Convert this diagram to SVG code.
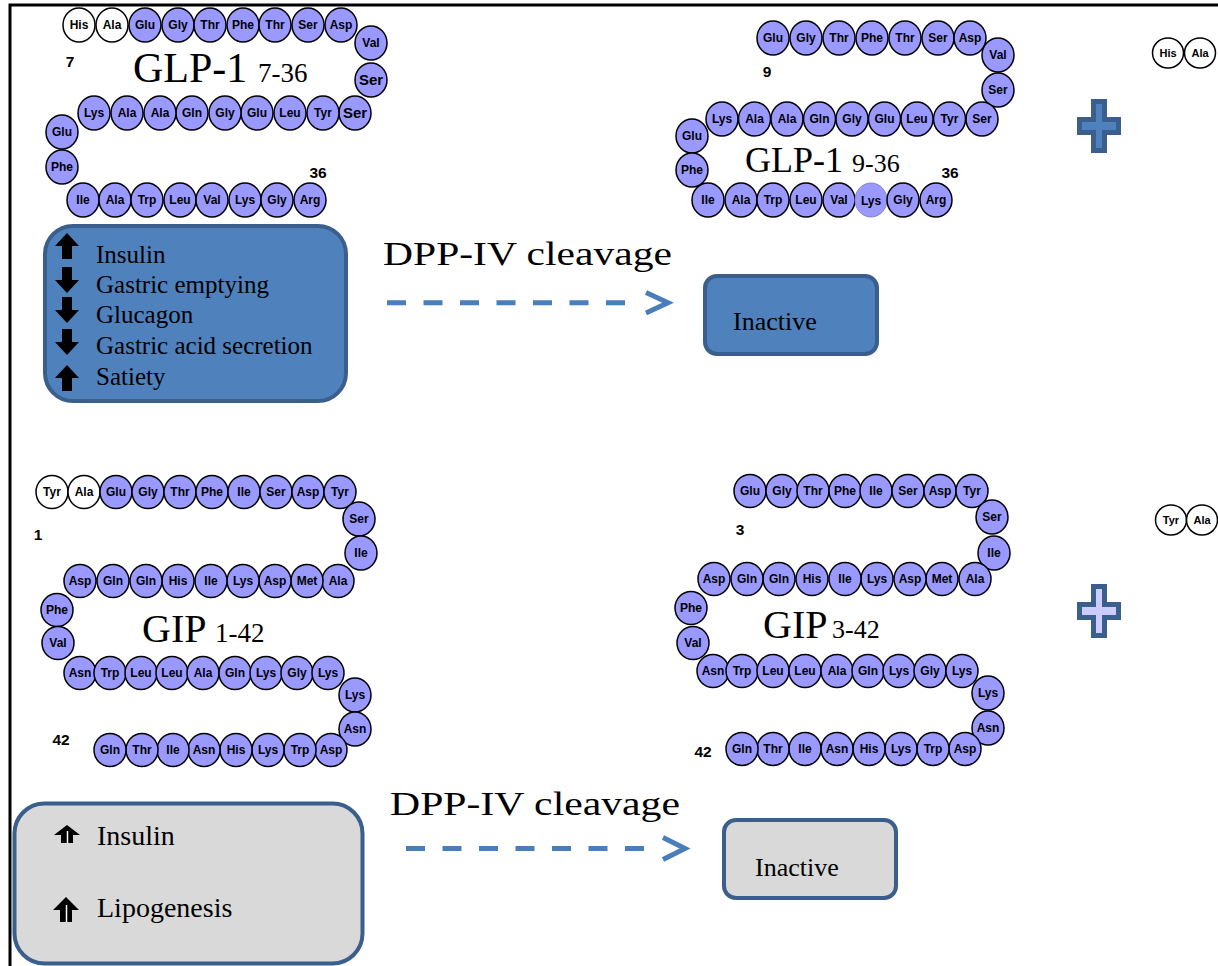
<svg xmlns="http://www.w3.org/2000/svg" xmlns:xlink="http://www.w3.org/1999/xlink" width="1218" height="966" viewBox="0 0 1218 966">
<style>
.aa{fill:#9999ff;stroke:#000;stroke-width:1.5}
.aw{fill:#fff;stroke:#000;stroke-width:1.5}
.al{fill:#9999ff;stroke:#8585c0;stroke-width:1}
.lb{font-family:"Liberation Sans",Arial,sans-serif;font-weight:bold;font-size:12px;text-anchor:middle;fill:#000}
.big{font-size:15px}
.sm{font-size:11px}
.num{font-family:"Liberation Sans",Arial,sans-serif;font-weight:bold;font-size:15.5px;text-anchor:middle;fill:#000}
.ser{font-family:"Liberation Serif","Times New Roman",serif;fill:#000}
.boxb{fill:#4f81bd;stroke:#3b5f8c;stroke-width:4}
.boxg{fill:#d9d9d9;stroke:#3b5f8c;stroke-width:4}
.dash{fill:none;stroke:#4a7ebb;stroke-width:5;stroke-dasharray:19 17.5}
.chev{fill:none;stroke:#4a7ebb;stroke-width:5;stroke-linejoin:miter}
.frame{fill:none;stroke:#000;stroke-width:3}
</style>
<defs>
<path id="upA" d="M0,0 L12,13 L5,13 L5,26 L-5,26 L-5,13 L-12,13 Z" fill="#000"/>
</defs>
<rect x="0" y="0" width="1218" height="966" fill="#fff"/>
<path class="frame" d="M10,966 V5 H1218"/>

<g id="glp1-7-36">
<ellipse class="aw" cx="79" cy="25" rx="16" ry="17"/><text class="lb" x="79" y="29">His</text>
<ellipse class="aw" cx="112" cy="25" rx="16" ry="17"/><text class="lb" x="112" y="29">Ala</text>
<ellipse class="aa" cx="145" cy="25" rx="16" ry="17"/><text class="lb" x="145" y="29">Glu</text>
<ellipse class="aa" cx="178" cy="25" rx="16" ry="17"/><text class="lb" x="178" y="29">Gly</text>
<ellipse class="aa" cx="210" cy="25" rx="16" ry="17"/><text class="lb" x="210" y="29">Thr</text>
<ellipse class="aa" cx="243" cy="25" rx="16" ry="17"/><text class="lb" x="243" y="29">Phe</text>
<ellipse class="aa" cx="275" cy="25" rx="16" ry="17"/><text class="lb" x="275" y="29">Thr</text>
<ellipse class="aa" cx="308" cy="25" rx="16" ry="17"/><text class="lb" x="308" y="29">Ser</text>
<ellipse class="aa" cx="341" cy="25" rx="16" ry="17"/><text class="lb" x="341" y="29">Asp</text>
<ellipse class="aa" cx="371" cy="43" rx="16" ry="17"/><text class="lb" x="371" y="47">Val</text>
<ellipse class="aa" cx="371" cy="80" rx="16" ry="17"/><text class="lb big" x="371" y="85">Ser</text>
<ellipse class="aa" cx="355" cy="113" rx="16" ry="17"/><text class="lb big" x="355" y="118">Ser</text>
<ellipse class="aa" cx="323" cy="113" rx="16" ry="17"/><text class="lb" x="323" y="117">Tyr</text>
<ellipse class="aa" cx="290" cy="113" rx="16" ry="17"/><text class="lb" x="290" y="117">Leu</text>
<ellipse class="aa" cx="257" cy="113" rx="16" ry="17"/><text class="lb" x="257" y="117">Glu</text>
<ellipse class="aa" cx="225" cy="113" rx="16" ry="17"/><text class="lb" x="225" y="117">Gly</text>
<ellipse class="aa" cx="192" cy="113" rx="16" ry="17"/><text class="lb" x="192" y="117">Gln</text>
<ellipse class="aa" cx="160" cy="113" rx="16" ry="17"/><text class="lb" x="160" y="117">Ala</text>
<ellipse class="aa" cx="127" cy="113" rx="16" ry="17"/><text class="lb" x="127" y="117">Ala</text>
<ellipse class="aa" cx="94" cy="113" rx="16" ry="17"/><text class="lb" x="94" y="117">Lys</text>
<ellipse class="aa" cx="62" cy="132" rx="16" ry="17"/><text class="lb" x="62" y="136">Glu</text>
<ellipse class="aa" cx="62" cy="167" rx="16" ry="17"/><text class="lb" x="62" y="171">Phe</text>
<ellipse class="aa" cx="83" cy="200" rx="16" ry="17"/><text class="lb" x="83" y="204">Ile</text>
<ellipse class="aa" cx="115" cy="200" rx="16" ry="17"/><text class="lb" x="115" y="204">Ala</text>
<ellipse class="aa" cx="147" cy="200" rx="16" ry="17"/><text class="lb" x="147" y="204">Trp</text>
<ellipse class="aa" cx="180" cy="200" rx="16" ry="17"/><text class="lb" x="180" y="204">Leu</text>
<ellipse class="aa" cx="212" cy="200" rx="16" ry="17"/><text class="lb" x="212" y="204">Val</text>
<ellipse class="aa" cx="245" cy="200" rx="16" ry="17"/><text class="lb" x="245" y="204">Lys</text>
<ellipse class="aa" cx="277" cy="200" rx="16" ry="17"/><text class="lb" x="277" y="204">Gly</text>
<ellipse class="aa" cx="310" cy="200" rx="16" ry="17"/><text class="lb" x="310" y="204">Arg</text>
<text class="num" x="70" y="67">7</text>
<text class="num" x="318" y="178">36</text>
<text class="ser" x="133" y="82" font-size="42">GLP-1</text>
<text class="ser" x="258" y="82" font-size="27">7-36</text>
</g>

<g id="glp1-9-36">
<ellipse class="aa" cx="773" cy="38" rx="16" ry="17"/><text class="lb" x="773" y="42">Glu</text>
<ellipse class="aa" cx="806" cy="38" rx="16" ry="17"/><text class="lb" x="806" y="42">Gly</text>
<ellipse class="aa" cx="839" cy="38" rx="16" ry="17"/><text class="lb" x="839" y="42">Thr</text>
<ellipse class="aa" cx="872" cy="38" rx="16" ry="17"/><text class="lb" x="872" y="42">Phe</text>
<ellipse class="aa" cx="905" cy="38" rx="16" ry="17"/><text class="lb" x="905" y="42">Thr</text>
<ellipse class="aa" cx="938" cy="38" rx="16" ry="17"/><text class="lb" x="938" y="42">Ser</text>
<ellipse class="aa" cx="970" cy="38" rx="16" ry="17"/><text class="lb" x="970" y="42">Asp</text>
<ellipse class="aa" cx="998" cy="55" rx="16" ry="17"/><text class="lb" x="998" y="59">Val</text>
<ellipse class="aa" cx="998" cy="90" rx="16" ry="17"/><text class="lb" x="998" y="94">Ser</text>
<ellipse class="aa" cx="982" cy="119" rx="16" ry="17"/><text class="lb" x="982" y="123">Ser</text>
<ellipse class="aa" cx="949.5" cy="119" rx="16" ry="17"/><text class="lb" x="949.5" y="123">Tyr</text>
<ellipse class="aa" cx="917" cy="119" rx="16" ry="17"/><text class="lb" x="917" y="123">Leu</text>
<ellipse class="aa" cx="884.5" cy="119" rx="16" ry="17"/><text class="lb" x="884.5" y="123">Glu</text>
<ellipse class="aa" cx="852" cy="119" rx="16" ry="17"/><text class="lb" x="852" y="123">Gly</text>
<ellipse class="aa" cx="819.5" cy="119" rx="16" ry="17"/><text class="lb" x="819.5" y="123">Gln</text>
<ellipse class="aa" cx="787" cy="119" rx="16" ry="17"/><text class="lb" x="787" y="123">Ala</text>
<ellipse class="aa" cx="754.5" cy="119" rx="16" ry="17"/><text class="lb" x="754.5" y="123">Ala</text>
<ellipse class="aa" cx="722" cy="119" rx="16" ry="17"/><text class="lb" x="722" y="123">Lys</text>
<ellipse class="aa" cx="692" cy="136" rx="16" ry="17"/><text class="lb" x="692" y="140">Glu</text>
<ellipse class="aa" cx="692" cy="170" rx="16" ry="17"/><text class="lb" x="692" y="174">Phe</text>
<ellipse class="aa" cx="708" cy="200" rx="16" ry="17"/><text class="lb" x="708" y="204">Ile</text>
<ellipse class="aa" cx="741" cy="200" rx="16" ry="17"/><text class="lb" x="741" y="204">Ala</text>
<ellipse class="aa" cx="773" cy="200" rx="16" ry="17"/><text class="lb" x="773" y="204">Trp</text>
<ellipse class="aa" cx="806" cy="200" rx="16" ry="17"/><text class="lb" x="806" y="204">Leu</text>
<ellipse class="aa" cx="839" cy="200" rx="16" ry="17"/><text class="lb" x="839" y="204">Val</text>
<ellipse class="al" cx="871" cy="200" rx="16" ry="17"/><text class="lb" x="871" y="205">Lys</text>
<ellipse class="aa" cx="903" cy="200" rx="16" ry="17"/><text class="lb" x="903" y="204">Gly</text>
<ellipse class="aa" cx="936" cy="200" rx="16" ry="17"/><text class="lb" x="936" y="204">Arg</text>
<text class="num" x="767" y="77">9</text>
<text class="num" x="950" y="178">36</text>
<text class="ser" x="745" y="172" font-size="36">GLP-1</text>
<text class="ser" x="852" y="172" font-size="26">9-36</text>
</g>

<g id="glp1-cleaved-dipeptide">
<ellipse class="aw" cx="1168" cy="53" rx="15.5" ry="15"/><text class="lb sm" x="1168" y="57">His</text>
<ellipse class="aw" cx="1200" cy="53" rx="15.5" ry="15"/><text class="lb sm" x="1200" y="57">Ala</text>
</g>
<g id="plus-glp1">
<path d="M1093.5,101.5 H1104.5 V119.5 H1118.5 V132.5 H1104.5 V150.5 H1093.5 V132.5 H1079.5 V119.5 H1093.5 Z" fill="#4f81bd" stroke="#3b5f8c" stroke-width="5"/>
</g>

<g id="glp1-effects">
<rect class="boxb" x="45" y="226" width="301" height="175" rx="28"/>
<use xlink:href="#upA" href="#upA" transform="translate(67,233)"/>
<use xlink:href="#upA" href="#upA" transform="translate(67,293) scale(1,-1)"/>
<use xlink:href="#upA" href="#upA" transform="translate(67,323) scale(1,-1)"/>
<use xlink:href="#upA" href="#upA" transform="translate(67,355) scale(1,-1)"/>
<use xlink:href="#upA" href="#upA" transform="translate(67,365)"/>
<text class="ser" x="96" y="263" font-size="25">Insulin</text>
<text class="ser" x="96" y="293" font-size="25">Gastric emptying</text>
<text class="ser" x="96" y="323" font-size="25">Glucagon</text>
<text class="ser" x="96" y="354" font-size="25">Gastric acid secretion</text>
<text class="ser" x="96" y="385" font-size="25">Satiety</text>
</g>

<g id="dpp-label-glp1">
<text class="ser" x="383" y="265" font-size="34" textLength="289" lengthAdjust="spacingAndGlyphs">DPP-IV cleavage</text>
</g>

<g id="inactive-glp1">
<rect class="boxb" x="705" y="276" width="172" height="78" rx="12"/>
<text class="ser" x="733" y="330" font-size="26">Inactive</text>
</g>

<g id="gip-1-42">
<ellipse class="aw" cx="52" cy="492" rx="16" ry="16.5"/><text class="lb" x="52" y="496">Tyr</text>
<ellipse class="aw" cx="84" cy="492" rx="16" ry="16.5"/><text class="lb" x="84" y="496">Ala</text>
<ellipse class="aa" cx="116" cy="492" rx="16" ry="16.5"/><text class="lb" x="116" y="496">Glu</text>
<ellipse class="aa" cx="148" cy="492" rx="16" ry="16.5"/><text class="lb" x="148" y="496">Gly</text>
<ellipse class="aa" cx="180" cy="492" rx="16" ry="16.5"/><text class="lb" x="180" y="496">Thr</text>
<ellipse class="aa" cx="212" cy="492" rx="16" ry="16.5"/><text class="lb" x="212" y="496">Phe</text>
<ellipse class="aa" cx="244" cy="492" rx="16" ry="16.5"/><text class="lb" x="244" y="496">Ile</text>
<ellipse class="aa" cx="276" cy="492" rx="16" ry="16.5"/><text class="lb" x="276" y="496">Ser</text>
<ellipse class="aa" cx="308" cy="492" rx="16" ry="16.5"/><text class="lb" x="308" y="496">Asp</text>
<ellipse class="aa" cx="340" cy="492" rx="16" ry="16.5"/><text class="lb" x="340" y="496">Tyr</text>
<ellipse class="aa" cx="359" cy="519" rx="16" ry="17"/><text class="lb" x="359" y="523">Ser</text>
<ellipse class="aa" cx="361" cy="553" rx="16" ry="17"/><text class="lb" x="361" y="557">Ile</text>
<ellipse class="aa" cx="338" cy="581" rx="16" ry="16.5"/><text class="lb" x="338" y="585">Ala</text>
<ellipse class="aa" cx="307" cy="581" rx="16" ry="16.5"/><text class="lb" x="307" y="585">Met</text>
<ellipse class="aa" cx="275" cy="581" rx="16" ry="16.5"/><text class="lb" x="275" y="585">Asp</text>
<ellipse class="aa" cx="243" cy="581" rx="16" ry="16.5"/><text class="lb" x="243" y="585">Lys</text>
<ellipse class="aa" cx="211" cy="581" rx="16" ry="16.5"/><text class="lb" x="211" y="585">Ile</text>
<ellipse class="aa" cx="178" cy="581" rx="16" ry="16.5"/><text class="lb" x="178" y="585">His</text>
<ellipse class="aa" cx="146" cy="581" rx="16" ry="16.5"/><text class="lb" x="146" y="585">Gln</text>
<ellipse class="aa" cx="113" cy="581" rx="16" ry="16.5"/><text class="lb" x="113" y="585">Gln</text>
<ellipse class="aa" cx="80" cy="581" rx="16" ry="16.5"/><text class="lb" x="80" y="585">Asp</text>
<ellipse class="aa" cx="57" cy="610" rx="16" ry="16.5"/><text class="lb" x="57" y="614">Phe</text>
<ellipse class="aa" cx="58" cy="643" rx="16" ry="16.5"/><text class="lb" x="58" y="647">Val</text>
<ellipse class="aa" cx="80" cy="673" rx="16" ry="16.5"/><text class="lb" x="80" y="677">Asn</text>
<ellipse class="aa" cx="110" cy="673" rx="16" ry="16.5"/><text class="lb" x="110" y="677">Trp</text>
<ellipse class="aa" cx="141" cy="673" rx="16" ry="16.5"/><text class="lb" x="141" y="677">Leu</text>
<ellipse class="aa" cx="172" cy="673" rx="16" ry="16.5"/><text class="lb" x="172" y="677">Leu</text>
<ellipse class="aa" cx="203" cy="673" rx="16" ry="16.5"/><text class="lb" x="203" y="677">Ala</text>
<ellipse class="aa" cx="235" cy="673" rx="16" ry="16.5"/><text class="lb" x="235" y="677">Gln</text>
<ellipse class="aa" cx="266" cy="673" rx="16" ry="16.5"/><text class="lb" x="266" y="677">Lys</text>
<ellipse class="aa" cx="297" cy="673" rx="16" ry="16.5"/><text class="lb" x="297" y="677">Gly</text>
<ellipse class="aa" cx="328" cy="673" rx="16" ry="16.5"/><text class="lb" x="328" y="677">Lys</text>
<ellipse class="aa" cx="355" cy="695" rx="16" ry="17"/><text class="lb" x="355" y="699">Lys</text>
<ellipse class="aa" cx="355" cy="729" rx="16" ry="17"/><text class="lb" x="355" y="733">Asn</text>
<ellipse class="aa" cx="331" cy="750" rx="16" ry="16.5"/><text class="lb" x="331" y="754">Asp</text>
<ellipse class="aa" cx="300" cy="750" rx="16" ry="16.5"/><text class="lb" x="300" y="754">Trp</text>
<ellipse class="aa" cx="268" cy="750" rx="16" ry="16.5"/><text class="lb" x="268" y="754">Lys</text>
<ellipse class="aa" cx="236" cy="750" rx="16" ry="16.5"/><text class="lb" x="236" y="754">His</text>
<ellipse class="aa" cx="204" cy="750" rx="16" ry="16.5"/><text class="lb" x="204" y="754">Asn</text>
<ellipse class="aa" cx="173" cy="750" rx="16" ry="16.5"/><text class="lb" x="173" y="754">Ile</text>
<ellipse class="aa" cx="142" cy="750" rx="16" ry="16.5"/><text class="lb" x="142" y="754">Thr</text>
<ellipse class="aa" cx="110" cy="750" rx="16" ry="16.5"/><text class="lb" x="110" y="754">Gln</text>
<text class="num" x="38" y="540">1</text>
<text class="num" x="61" y="745">42</text>
<text class="ser" x="142" y="642" font-size="40">GIP</text>
<text class="ser" x="215" y="642" font-size="27">1-42</text>
</g>

<g id="gip-3-42">
<ellipse class="aa" cx="750" cy="491" rx="16" ry="16.5"/><text class="lb" x="750" y="495">Glu</text>
<ellipse class="aa" cx="782" cy="491" rx="16" ry="16.5"/><text class="lb" x="782" y="495">Gly</text>
<ellipse class="aa" cx="813" cy="491" rx="16" ry="16.5"/><text class="lb" x="813" y="495">Thr</text>
<ellipse class="aa" cx="845" cy="491" rx="16" ry="16.5"/><text class="lb" x="845" y="495">Phe</text>
<ellipse class="aa" cx="876" cy="491" rx="16" ry="16.5"/><text class="lb" x="876" y="495">Ile</text>
<ellipse class="aa" cx="908" cy="491" rx="16" ry="16.5"/><text class="lb" x="908" y="495">Ser</text>
<ellipse class="aa" cx="940" cy="491" rx="16" ry="16.5"/><text class="lb" x="940" y="495">Asp</text>
<ellipse class="aa" cx="972" cy="491" rx="16" ry="16.5"/><text class="lb" x="972" y="495">Tyr</text>
<ellipse class="aa" cx="992" cy="517" rx="16" ry="17"/><text class="lb" x="992" y="521">Ser</text>
<ellipse class="aa" cx="994" cy="553" rx="16" ry="17"/><text class="lb" x="994" y="557">Ile</text>
<ellipse class="aa" cx="975" cy="579" rx="16" ry="16.5"/><text class="lb" x="975" y="583">Ala</text>
<ellipse class="aa" cx="942" cy="579" rx="16" ry="16.5"/><text class="lb" x="942" y="583">Met</text>
<ellipse class="aa" cx="910" cy="579" rx="16" ry="16.5"/><text class="lb" x="910" y="583">Asp</text>
<ellipse class="aa" cx="877" cy="579" rx="16" ry="16.5"/><text class="lb" x="877" y="583">Lys</text>
<ellipse class="aa" cx="845" cy="579" rx="16" ry="16.5"/><text class="lb" x="845" y="583">Ile</text>
<ellipse class="aa" cx="812" cy="579" rx="16" ry="16.5"/><text class="lb" x="812" y="583">His</text>
<ellipse class="aa" cx="779" cy="579" rx="16" ry="16.5"/><text class="lb" x="779" y="583">Gln</text>
<ellipse class="aa" cx="747" cy="579" rx="16" ry="16.5"/><text class="lb" x="747" y="583">Gln</text>
<ellipse class="aa" cx="714" cy="579" rx="16" ry="16.5"/><text class="lb" x="714" y="583">Asp</text>
<ellipse class="aa" cx="691" cy="608" rx="16" ry="16.5"/><text class="lb" x="691" y="612">Phe</text>
<ellipse class="aa" cx="693" cy="643" rx="16" ry="16.5"/><text class="lb" x="693" y="647">Val</text>
<ellipse class="aa" cx="713" cy="671" rx="16" ry="16.5"/><text class="lb" x="713" y="675">Asn</text>
<ellipse class="aa" cx="742" cy="671" rx="16" ry="16.5"/><text class="lb" x="742" y="675">Trp</text>
<ellipse class="aa" cx="773" cy="671" rx="16" ry="16.5"/><text class="lb" x="773" y="675">Leu</text>
<ellipse class="aa" cx="805" cy="671" rx="16" ry="16.5"/><text class="lb" x="805" y="675">Leu</text>
<ellipse class="aa" cx="837" cy="671" rx="16" ry="16.5"/><text class="lb" x="837" y="675">Ala</text>
<ellipse class="aa" cx="868" cy="671" rx="16" ry="16.5"/><text class="lb" x="868" y="675">Gln</text>
<ellipse class="aa" cx="899" cy="671" rx="16" ry="16.5"/><text class="lb" x="899" y="675">Lys</text>
<ellipse class="aa" cx="930" cy="671" rx="16" ry="16.5"/><text class="lb" x="930" y="675">Gly</text>
<ellipse class="aa" cx="962" cy="671" rx="16" ry="16.5"/><text class="lb" x="962" y="675">Lys</text>
<ellipse class="aa" cx="988" cy="693" rx="16" ry="17"/><text class="lb" x="988" y="697">Lys</text>
<ellipse class="aa" cx="988" cy="728" rx="16" ry="17"/><text class="lb" x="988" y="732">Asn</text>
<ellipse class="aa" cx="965" cy="749" rx="16" ry="16.5"/><text class="lb" x="965" y="753">Asp</text>
<ellipse class="aa" cx="933" cy="749" rx="16" ry="16.5"/><text class="lb" x="933" y="753">Trp</text>
<ellipse class="aa" cx="901" cy="749" rx="16" ry="16.5"/><text class="lb" x="901" y="753">Lys</text>
<ellipse class="aa" cx="869" cy="749" rx="16" ry="16.5"/><text class="lb" x="869" y="753">His</text>
<ellipse class="aa" cx="837" cy="749" rx="16" ry="16.5"/><text class="lb" x="837" y="753">Asn</text>
<ellipse class="aa" cx="805" cy="749" rx="16" ry="16.5"/><text class="lb" x="805" y="753">Ile</text>
<ellipse class="aa" cx="773" cy="749" rx="16" ry="16.5"/><text class="lb" x="773" y="753">Thr</text>
<ellipse class="aa" cx="742" cy="749" rx="16" ry="16.5"/><text class="lb" x="742" y="753">Gln</text>
<text class="num" x="740" y="535">3</text>
<text class="num" x="703" y="757">42</text>
<text class="ser" x="763" y="638" font-size="40">GIP</text>
<text class="ser" x="832" y="638" font-size="26">3-42</text>
</g>

<g id="gip-cleaved-dipeptide">
<ellipse class="aw" cx="1171" cy="520" rx="15.5" ry="15"/><text class="lb sm" x="1171" y="524">Tyr</text>
<ellipse class="aw" cx="1202" cy="520" rx="15.5" ry="15"/><text class="lb sm" x="1202" y="524">Ala</text>
</g>
<g id="plus-gip">
<path d="M1093.5,586.5 H1104.5 V604.5 H1118.5 V617.5 H1104.5 V635.5 H1093.5 V617.5 H1079.5 V604.5 H1093.5 Z" fill="#ccccff" stroke="#3b5f8c" stroke-width="5"/>
</g>

<g id="gip-effects">
<rect class="boxg" x="14.5" y="803.5" width="348" height="160" rx="30"/>
<path d="M67,825 L80,835 L73,835 L73,843 L61,843 L61,835 L54,835 Z" fill="#000"/>
<path d="M67.5,831 V843" stroke="#fff" stroke-width="1.5"/>
<path d="M66,897 L79,910 L72,910 L72,922 L60,922 L60,910 L53,910 Z" fill="#000"/>
<path d="M66.5,905 V922" stroke="#fff" stroke-width="1.5"/>
<text class="ser" x="97" y="845" font-size="28">Insulin</text>
<text class="ser" x="97" y="917" font-size="28">Lipogenesis</text>
</g>

<g id="dpp-label-gip">
<text class="ser" x="390" y="815" font-size="34" textLength="290" lengthAdjust="spacingAndGlyphs">DPP-IV cleavage</text>
</g>

<g id="inactive-gip">
<rect class="boxg" x="724" y="820" width="172" height="78" rx="12"/>
<text class="ser" x="755" y="876" font-size="26">Inactive</text>
</g>

<g id="connectors">
<path class="dash" d="M387,302.7 H625"/>
<polyline class="chev" points="646,292.5 668,302.7 646,313"/>
<path class="dash" d="M406,848.5 H644"/>
<polyline class="chev" points="663,837.5 685,848.5 663,859.5"/>
</g>
</svg>
